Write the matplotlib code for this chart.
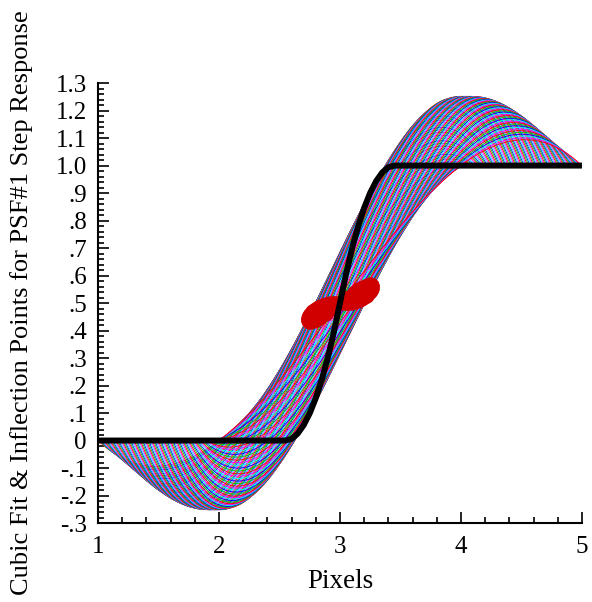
import matplotlib
matplotlib.use("Agg")
import matplotlib.pyplot as plt
import numpy as np
from matplotlib.ticker import MultipleLocator, FuncFormatter

plt.rcParams['font.family'] = ['Liberation Serif', 'DejaVu Serif']

# PSF#1 step response (black curve)
step_x = [1.00, 2.50, 2.55, 2.60, 2.65, 2.70, 2.75, 2.80, 2.85, 2.90, 2.95, 3.00,
          3.05, 3.10, 3.15, 3.20, 3.25, 3.30, 3.35, 3.40, 3.45, 3.50, 5.00]
step_y = [0.00, 0.00, 0.00, 0.006, 0.025, 0.056, 0.099, 0.154, 0.222, 0.302, 0.395, 0.50,
          0.605, 0.698, 0.778, 0.846, 0.901, 0.944, 0.975, 0.994, 1.00, 1.00, 1.00]

# start of each 4-pixel cubic fit window (sub-pixel shifts)
window_starts = np.linspace(1.0, 2.0, 101)
sample_offsets = [0, 1, 2, 3]

line_colors = ['#ff0000', '#00d000', '#0000ff', '#00ffff', '#ff00ff']

fig = plt.figure(figsize=(5.92, 6.02), dpi=100)
ax = fig.add_axes([0.1655, 0.1312, 0.8175, 0.7308])

infl_x, infl_y = [], []
for i, x0 in enumerate(window_starts):
    xs = x0 + np.array(sample_offsets)
    ys = np.interp(xs, step_x, step_y)
    coef = np.polyfit(xs - x0, ys, 3)
    t = np.linspace(0, 3, 200)
    ax.plot(x0 + t, np.polyval(coef, t), color=line_colors[i % len(line_colors)],
            lw=0.6, zorder=2)
    ti = -coef[1] / (3 * coef[0])
    infl_x.append(x0 + ti)
    infl_y.append(np.polyval(coef, ti))

ax.plot(infl_x, infl_y, 'o', color='#d00000', ms=10, mec='none', zorder=3)
ax.plot(step_x, step_y, color='black', lw=4.3, solid_capstyle='butt', zorder=4)

ax.set_xlim(1, 5)
ax.set_ylim(-0.3, 1.3)
ax.spines['top'].set_visible(False)
ax.spines['right'].set_visible(False)
ax.spines['left'].set_linewidth(1.5)
ax.spines['bottom'].set_linewidth(1.5)

ax.xaxis.set_major_locator(MultipleLocator(1))
ax.xaxis.set_minor_locator(MultipleLocator(0.2))
ax.yaxis.set_major_locator(MultipleLocator(0.1))
ax.yaxis.set_minor_locator(MultipleLocator(0.02))


def ylab(v, pos):
    s = f"{v:.1f}"
    if s in ("0.0", "-0.0"):
        return "0"
    if abs(v) < 1:
        s = s.replace("0.", ".")
    return s


ax.yaxis.set_major_formatter(FuncFormatter(ylab))
ax.tick_params(which='both', direction='in', width=1.2, labelsize=18, color='black')
ax.tick_params(which='major', length=8)
ax.tick_params(which='minor', length=4.5)
ax.tick_params(axis='y', pad=8)
ax.tick_params(axis='x', pad=9)

ax.set_xlabel('Pixels', fontsize=19.5)
ax.set_ylabel('Cubic Fit & Inflection Points for PSF#1 Step Response', fontsize=19)
ax.xaxis.set_label_coords(0.5, -0.105)
ax.yaxis.set_label_coords(-0.135, 0.5)

fig.savefig("out.png", dpi=100)
